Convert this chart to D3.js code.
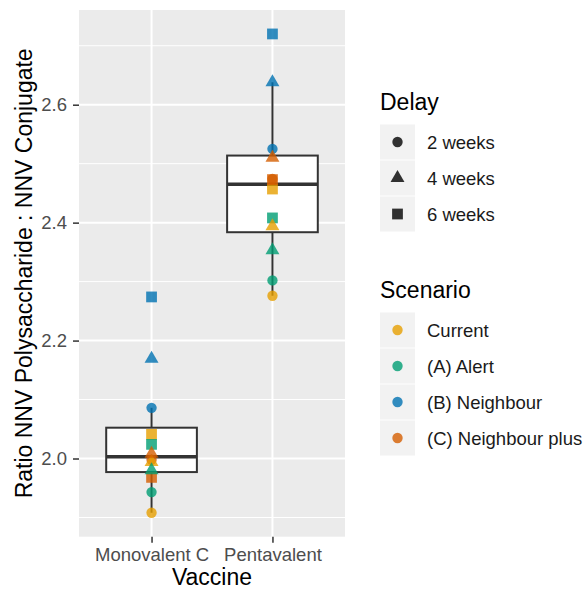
<!DOCTYPE html>
<html>
<head>
<meta charset="utf-8">
<script src="https://cdn.jsdelivr.net/npm/d3@7/dist/d3.min.js"></script>
<style>
  html, body { margin: 0; padding: 0; background: #ffffff; }
  svg { display: block; font-family: "Liberation Sans", Arial, Helvetica, sans-serif; }
</style>
</head>
<body>
<svg id="chart" width="587" height="591"></svg>
<script>
// Categories and legend entries
const vaccines = ["Monovalent C", "Pentavalent"];
const scenarios = ["Current", "(A) Alert", "(B) Neighbour", "(C) Neighbour plus"];
const delays = ["2 weeks", "4 weeks", "6 weeks"];

// Ratio values per scenario, ordered by delay (2, 4, 6 weeks)
const monovalentC = [
  [1.908, 1.994, 2.041],  // Current
  [1.943, 1.980, 2.024],  // (A) Alert
  [2.086, 2.169, 2.274],  // (B) Neighbour
  [1.998, 2.008, 1.968]   // (C) Neighbour plus
];
const pentavalent = [
  [2.276, 2.394, 2.457],
  [2.302, 2.353, 2.408],
  [2.525, 2.638, 2.720],
  [2.474, 2.510, 2.473]
];

// Axis ticks
const yMajorTicks = [2.0, 2.2, 2.4, 2.6];
const yMinorTicks = [1.9, 2.1, 2.3, 2.5, 2.7];

const scenarioColors = ["#E69F00", "#009E73", "#0072B2", "#D55E00"];
const delaySymbols = [d3.symbolCircle, d3.symbolTriangle, d3.symbolSquare];
const delaySizes = [84, 84, 116];

// Long-format records built from the arrays above
const valuesByVaccine = [monovalentC, pentavalent];
const records = [];
vaccines.forEach((v, vi) => {
  scenarios.forEach((s, si) => {
    delays.forEach((d, di) => {
      records.push({ vaccine: v, scenario: si, delay: di, value: valuesByVaccine[vi][si][di] });
    });
  });
});

const svg = d3.select("#chart");
const panel = { left: 79, right: 345, top: 10, bottom: 536.7 };

// Scales (5% expansion on the continuous axis, 0.6 category padding on the discrete one)
const ext = d3.extent(records, r => r.value);
const pad = (ext[1] - ext[0]) * 0.05;
const y = d3.scaleLinear().domain([ext[0] - pad, ext[1] + pad]).range([panel.bottom, panel.top]);
const x = d3.scalePoint().domain(vaccines).range([panel.left, panel.right]).padding(0.6);
const boxWidth = x.step() * 0.75;

// Panel background and grid
svg.append("rect")
  .attr("x", panel.left).attr("y", panel.top)
  .attr("width", panel.right - panel.left).attr("height", panel.bottom - panel.top)
  .attr("fill", "#EBEBEB");

const grid = svg.append("g");
grid.selectAll("line.minor").data(yMinorTicks).join("line")
  .attr("x1", panel.left).attr("x2", panel.right)
  .attr("y1", d => y(d)).attr("y2", d => y(d))
  .attr("stroke", "#ffffff").attr("stroke-width", 1);
grid.selectAll("line.majory").data(yMajorTicks).join("line")
  .attr("x1", panel.left).attr("x2", panel.right)
  .attr("y1", d => y(d)).attr("y2", d => y(d))
  .attr("stroke", "#ffffff").attr("stroke-width", 2);
grid.selectAll("line.majorx").data(vaccines).join("line")
  .attr("x1", d => x(d)).attr("x2", d => x(d))
  .attr("y1", panel.top).attr("y2", panel.bottom)
  .attr("stroke", "#ffffff").attr("stroke-width", 2);

// Box plots (Tukey whiskers, outliers not drawn separately)
const stats = vaccines.map(v => {
  const vals = records.filter(r => r.vaccine === v).map(r => r.value).sort(d3.ascending);
  const q1 = d3.quantile(vals, 0.25), med = d3.quantile(vals, 0.5), q3 = d3.quantile(vals, 0.75);
  const iqr = q3 - q1;
  const lo = d3.min(vals.filter(d => d >= q1 - 1.5 * iqr));
  const hi = d3.max(vals.filter(d => d <= q3 + 1.5 * iqr));
  return { vaccine: v, q1, med, q3, lo, hi };
});

const boxes = svg.append("g").selectAll("g").data(stats).join("g");
boxes.append("line")
  .attr("x1", d => x(d.vaccine)).attr("x2", d => x(d.vaccine))
  .attr("y1", d => y(d.q3)).attr("y2", d => y(d.hi))
  .attr("stroke", "#333333").attr("stroke-width", 2);
boxes.append("line")
  .attr("x1", d => x(d.vaccine)).attr("x2", d => x(d.vaccine))
  .attr("y1", d => y(d.q1)).attr("y2", d => y(d.lo))
  .attr("stroke", "#333333").attr("stroke-width", 2);
boxes.append("rect")
  .attr("x", d => x(d.vaccine) - boxWidth / 2).attr("width", boxWidth)
  .attr("y", d => y(d.q3)).attr("height", d => y(d.q1) - y(d.q3))
  .attr("fill", "#ffffff").attr("stroke", "#333333").attr("stroke-width", 2);
boxes.append("line")
  .attr("x1", d => x(d.vaccine) - boxWidth / 2).attr("x2", d => x(d.vaccine) + boxWidth / 2)
  .attr("y1", d => y(d.med)).attr("y2", d => y(d.med))
  .attr("stroke", "#333333").attr("stroke-width", 3.6);

// Points: squares first, then circles, then triangles
const drawOrder = [2, 0, 1];
const ordered = drawOrder.flatMap(di => records.filter(r => r.delay === di));
const sym = d3.symbol();
svg.append("g").selectAll("path").data(ordered).join("path")
  .attr("transform", d => `translate(${x(d.vaccine)},${y(d.value)})`)
  .attr("d", d => sym.type(delaySymbols[d.delay]).size(delaySizes[d.delay])())
  .attr("fill", d => scenarioColors[d.scenario])
  .attr("fill-opacity", 0.8);

// Axes
const yAxis = svg.append("g")
  .attr("transform", `translate(${panel.left},0)`)
  .call(d3.axisLeft(y).tickValues(yMajorTicks).tickFormat(d3.format(".1f")).tickSize(6).tickPadding(6));
const xAxis = svg.append("g")
  .attr("transform", `translate(0,${panel.bottom})`)
  .call(d3.axisBottom(x).tickSize(6).tickPadding(5));
[yAxis, xAxis].forEach(a => {
  a.select(".domain").remove();
  a.selectAll(".tick line").attr("stroke", "#333333").attr("stroke-width", 1.5);
  a.selectAll(".tick text").attr("fill", "#4D4D4D").style("font-size", "18.5px")
    .style("font-family", "'Liberation Sans', Arial, sans-serif");
});

// Axis titles
svg.append("text")
  .attr("x", (panel.left + panel.right) / 2).attr("y", 585)
  .attr("text-anchor", "middle").style("font-size", "23px").attr("fill", "#000000")
  .text("Vaccine");
svg.append("text")
  .attr("transform", `translate(32,${(panel.top + panel.bottom) / 2}) rotate(-90)`)
  .attr("text-anchor", "middle").style("font-size", "23px").attr("fill", "#000000")
  .text("Ratio NNV Polysaccharide : NNV Conjugate");

// Legends
function legend(title, titleY, labels, drawKey) {
  const g = svg.append("g");
  g.append("text").attr("x", 380).attr("y", titleY)
    .style("font-size", "23px").attr("fill", "#000000").text(title);
  labels.forEach((lab, i) => {
    const cy = titleY + 32 + i * 36;
    g.append("rect").attr("x", 380).attr("y", cy - 17.5).attr("width", 35).attr("height", 35)
      .attr("fill", "#F2F2F2");
    drawKey(g, 397.5, cy, i);
    g.append("text").attr("x", 427).attr("y", cy + 6.7)
      .style("font-size", "18.5px").attr("fill", "#1A1A1A").text(lab);
  });
}

legend("Delay", 110, delays, (g, cx, cy, i) => {
  g.append("path").attr("transform", `translate(${cx},${cy})`)
    .attr("d", d3.symbol().type(delaySymbols[i]).size(delaySizes[i])())
    .attr("fill", "#000000").attr("fill-opacity", 0.8);
});
legend("Scenario", 298, scenarios, (g, cx, cy, i) => {
  g.append("path").attr("transform", `translate(${cx},${cy})`)
    .attr("d", d3.symbol().type(d3.symbolCircle).size(delaySizes[0])())
    .attr("fill", scenarioColors[i]).attr("fill-opacity", 0.8);
});
</script>
</body>
</html>
